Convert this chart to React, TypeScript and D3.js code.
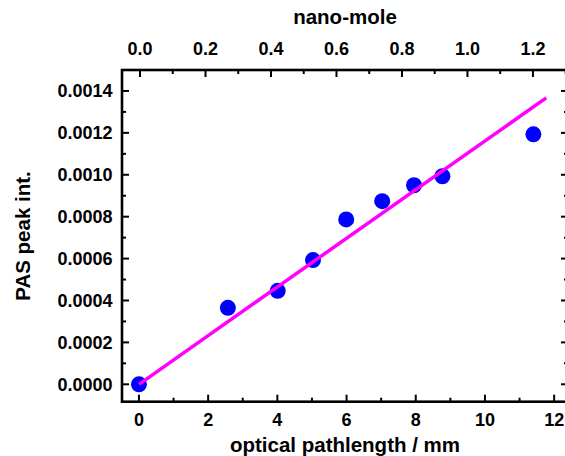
import React, { useEffect, useRef } from 'react';
import * as d3 from 'd3';

// measured points: optical pathlength (mm) vs PAS peak intensity
const pathlength = [0, 2.57, 4.01, 5.03, 5.99, 7.03, 7.95, 8.77, 11.4];
const peakInt = [0, 0.000365, 0.000446, 0.000593, 0.000787, 0.000874, 0.00095, 0.000993, 0.001193];

// linear fit line endpoints
const fitX = [0, 11.77];
const fitY = [0, 0.001367];

const bottomMajor = [0, 2, 4, 6, 8, 10, 12];
const bottomMinor = [1, 3, 5, 7, 9, 11];
const topMajor = [0, 0.2, 0.4, 0.6, 0.8, 1.0, 1.2];
const topMinor = [0.1, 0.3, 0.5, 0.7, 0.9, 1.1, 1.3];
const yMajor = [0, 0.0002, 0.0004, 0.0006, 0.0008, 0.001, 0.0012, 0.0014];
const yMinor = [0.0001, 0.0003, 0.0005, 0.0007, 0.0009, 0.0011, 0.0013];

const FONT = "'Liberation Sans', Arial, sans-serif";

const App = () => {
    const ref = useRef<SVGSVGElement>(null);

    useEffect(() => {
        const svg = d3.select(ref.current);
        svg.selectAll('*').remove();

        const left = 122, right = 568, top = 70, bottom = 401.7;

        const x = d3.scaleLinear().domain([-0.49, 12.4]).range([left, right]);
        const xTop = d3.scaleLinear().domain([-0.055, 1.307]).range([left, right]);
        const y = d3.scaleLinear().domain([-0.000083, 0.0015]).range([bottom, top]);

        const g = svg.append('g');

        // frame
        g.append('rect')
            .attr('x', left).attr('y', top)
            .attr('width', right - left).attr('height', bottom - top)
            .attr('fill', 'none').attr('stroke', '#000').attr('stroke-width', 2.6);

        const tick = (x1: number, y1: number, x2: number, y2: number) =>
            g.append('line')
                .attr('x1', x1).attr('y1', y1).attr('x2', x2).attr('y2', y2)
                .attr('stroke', '#000').attr('stroke-width', 2);

        // ticks, all pointing inward
        bottomMajor.forEach(v => { tick(x(v), bottom, x(v), bottom - 7); });
        bottomMinor.forEach(v => { tick(x(v), bottom, x(v), bottom - 4); });
        topMajor.forEach(v => { tick(xTop(v), top, xTop(v), top + 7); });
        topMinor.forEach(v => { tick(xTop(v), top, xTop(v), top + 4); });
        yMajor.forEach(v => {
            tick(left, y(v), left + 7, y(v));
            tick(right, y(v), right - 7, y(v));
        });
        yMinor.forEach(v => {
            tick(left, y(v), left + 4, y(v));
            tick(right, y(v), right - 4, y(v));
        });

        const label = (tx: number, ty: number, s: string, anchor: string, size: number) =>
            g.append('text')
                .attr('x', tx).attr('y', ty)
                .attr('text-anchor', anchor)
                .attr('font-family', FONT).attr('font-weight', 'bold')
                .attr('font-size', size).attr('fill', '#000')
                .text(s);

        bottomMajor.forEach(v => { label(x(v), 426, d3.format('d')(v), 'middle', 18); });
        topMajor.forEach(v => { label(xTop(v), 55, d3.format('.1f')(v), 'middle', 18); });
        yMajor.forEach(v => { label(112.5, y(v) + 6.3, d3.format('.4f')(v), 'end', 18); });

        const mid = (left + right) / 2;
        label(mid, 452, 'optical pathlength / mm', 'middle', 20.5);
        label(mid, 24, 'nano-mole', 'middle', 20.5);
        label(0, 0, 'PAS peak int.', 'middle', 20.5)
            .attr('transform', 'translate(30,236) rotate(-90)');

        const line = d3.line<number>()
            .x((d, i) => x(fitX[i]))
            .y(d => y(d));

        // data points
        g.selectAll('.pt')
            .data(pathlength)
            .enter().append('circle')
            .attr('class', 'pt')
            .attr('cx', d => x(d))
            .attr('cy', (d, i) => y(peakInt[i]))
            .attr('r', 8)
            .attr('fill', '#0000ff');

        // fit line is drawn over the points in the reference
        g.append('path')
            .attr('d', line(fitY))
            .attr('fill', 'none')
            .attr('stroke', '#ff00ff')
            .attr('stroke-width', 3.5);
    }, []);

    return (
        <svg ref={ref} width={565} height={456}
            style={{ position: 'absolute', left: 0, top: 0, background: '#fff' }} />
    );
};

export default App;
